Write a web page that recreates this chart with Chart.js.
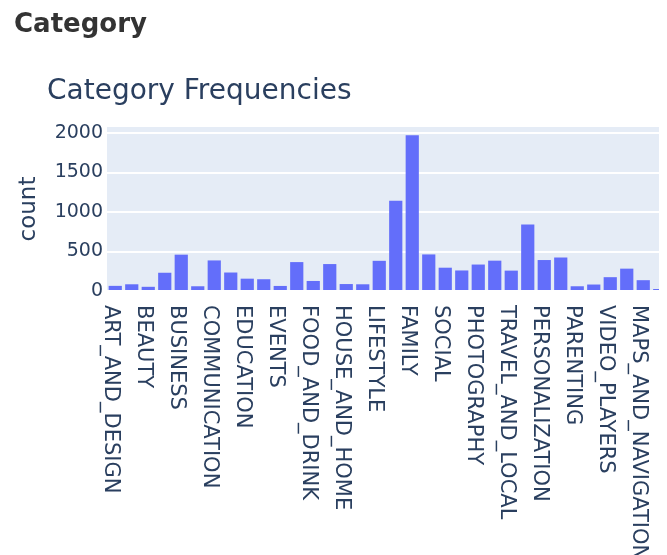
<!DOCTYPE html>
<html><head><meta charset="utf-8">
<script src="https://cdn.jsdelivr.net/npm/chart.js@4.4.1/dist/chart.umd.min.js"></script>
<style>
html,body{margin:0;padding:0;background:#fff;}
#wrap{position:relative;width:667px;height:555px;overflow:hidden;background:#fff;}
#clip{position:absolute;left:0;top:0;width:659px;height:555px;overflow:hidden;}
#heading{position:absolute;left:14px;top:10px;font-family:"DejaVu Sans";font-weight:bold;font-size:26px;line-height:26px;color:#333;margin:0;white-space:nowrap;z-index:2;}
canvas{display:block;}
</style></head><body>
<div id="wrap">
<div id="clip"><canvas id="c" width="700" height="555"></canvas></div>
<div id="heading">Category</div>
</div>
<script>
const categories = ['ART_AND_DESIGN','AUTO_AND_VEHICLES','BEAUTY','BOOKS_AND_REFERENCE','BUSINESS','COMICS','COMMUNICATION','DATING','EDUCATION','ENTERTAINMENT','EVENTS','FINANCE','FOOD_AND_DRINK','HEALTH_AND_FITNESS','HOUSE_AND_HOME','LIBRARIES_AND_DEMO','LIFESTYLE','GAME','FAMILY','MEDICAL','SOCIAL','SHOPPING','PHOTOGRAPHY','SPORTS','TRAVEL_AND_LOCAL','TOOLS','PERSONALIZATION','PRODUCTIVITY','PARENTING','WEATHER','VIDEO_PLAYERS','NEWS_AND_MAGAZINES','MAPS_AND_NAVIGATION','1.9'];
const counts = [65,85,53,231,460,60,387,234,156,149,64,366,127,341,88,85,382,1144,1972,463,295,260,335,384,258,843,392,424,60,82,175,283,137,1];
const yTickValues = [0,500,1000,1500,2000];
const chartTitle = 'Category Frequencies';
const yAxisTitle = 'count';

const plotBg = {
  id:'plotBg',
  beforeDraw(chart){
    const {ctx, chartArea:a} = chart;
    ctx.save(); ctx.fillStyle='#E5ECF6';
    ctx.fillRect(a.left,a.top,a.right-a.left,a.bottom-a.top);
    ctx.restore();
  }
};
const xLabels = {
  id:'xLabels',
  afterDraw(chart){
    const xs = chart.scales.x, ctx = chart.ctx;
    ctx.save();
    ctx.font = '21px "DejaVu Sans"';
    ctx.fillStyle = '#2a3f5f';
    ctx.textAlign = 'left';
    ctx.textBaseline = 'middle';
    categories.forEach((c,i)=>{
      if (i % 2) return;
      const px = xs.getPixelForValue(i);
      ctx.save();
      ctx.translate(px - 4.4, chart.chartArea.bottom + 14);
      ctx.rotate(Math.PI/2);
      ctx.fillText(c, 0, 0);
      ctx.restore();
    });
    ctx.restore();
  }
};

new Chart(document.getElementById('c'), {
  type:'bar',
  data:{labels:categories, datasets:[{data:counts, backgroundColor:'#636EFA', barPercentage:0.8, categoryPercentage:1.0, minBarLength:2}]},
  options:{
    responsive:false, animation:false, devicePixelRatio:1,
    layout:{padding:{left:47, right:32, top:0, bottom:0}},
    plugins:{
      legend:{display:false}, tooltip:{enabled:false},
      title:{display:true, text:chartTitle, align:'start', color:'#2a3f5f',
        font:{family:'DejaVu Sans', size:28, weight:'normal', lineHeight:1.2},
        padding:{top:75.2, bottom:18.2}}
    },
    scales:{
      x:{grid:{display:false}, border:{display:false}, ticks:{display:false},
         afterFit(s){ s.height = 264; }},
      y:{min:0, max:2076,
         grid:{color:'#ffffff', lineWidth:2, drawTicks:false}, border:{display:false},
         ticks:{padding:4, color:'#2a3f5f', font:{family:'DejaVu Sans', size:19}, includeBounds:false,
                callback:(v)=>String(v)},
         afterBuildTicks(s){ s.ticks = yTickValues.map(v=>({value:v})); },
         title:{display:true, text:yAxisTitle, color:'#2a3f5f', font:{family:'DejaVu Sans', size:23}, padding:{top:-31.8, bottom:0}},
         afterFit(s){ s.width = 60; }}
    }
  },
  plugins:[plotBg, xLabels]
});
</script>
</body></html>
